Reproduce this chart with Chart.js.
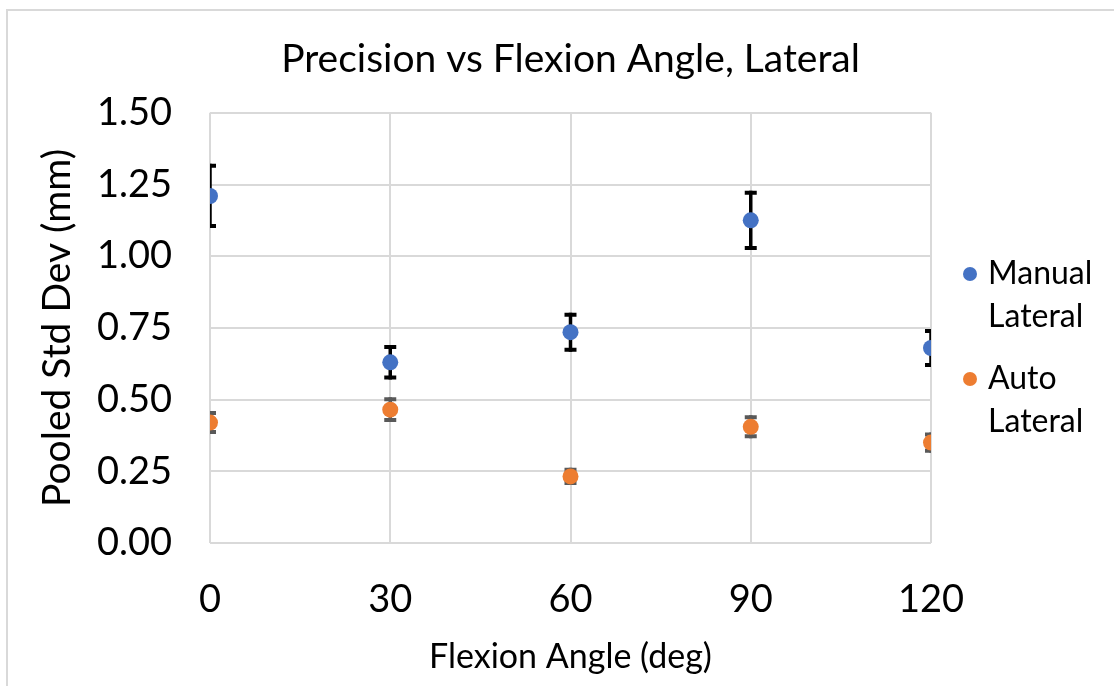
<!DOCTYPE html>
<html>
<head>
<meta charset="utf-8">
<script src="https://cdn.jsdelivr.net/npm/chart.js@4"></script>
<style>
  html, body { margin: 0; padding: 0; background: #fff; overflow: hidden; }
  #frame {
    position: absolute; left: 6px; top: 9px;
    width: 1108px; height: 677px;
    border-left: 2px solid #d9d9d9; border-top: 2px solid #d9d9d9;
    box-sizing: border-box;
  }
  #wrap { position: absolute; left: 0; top: 0; width: 1106px; height: 675px; }
</style>
</head>
<body>
<div id="frame"><div id="wrap"><canvas id="chart"></canvas></div></div>
<script>
const angles = [0, 30, 60, 90, 120];
const manualLateral = [1.21, 0.63, 0.735, 1.125, 0.68];
const manualErr = [0.112, 0.06, 0.068, 0.103, 0.066];
const autoLateral = [0.42, 0.465, 0.232, 0.405, 0.35];
const autoErr = [0.04, 0.043, 0.03, 0.04, 0.035];
const seriesNames = [["Manual", "Lateral"], ["Auto", "Lateral"]];
const yTicks = [0, 0.25, 0.5, 0.75, 1.0, 1.25, 1.5];

const FONT = "Lato";

const errorBars = {
  id: "errorBars",
  beforeDatasetsDraw(chart) {
    const { ctx, chartArea, scales: { x, y } } = chart;
    ctx.save();
    ctx.beginPath();
    ctx.rect(chartArea.left, chartArea.top, chartArea.width, chartArea.height);
    ctx.clip();
    chart.data.datasets.forEach(ds => {
      ctx.strokeStyle = ds.errColor;
      ds.data.forEach((p, i) => {
        const px = x.getPixelForValue(p.x);
        const top = y.getPixelForValue(p.y + ds.err[i]);
        const bot = y.getPixelForValue(p.y - ds.err[i]);
        ctx.lineWidth = 3.5;
        ctx.beginPath();
        ctx.moveTo(px, top);
        ctx.lineTo(px, bot);
        ctx.stroke();
        ctx.lineWidth = 4;
        ctx.beginPath();
        ctx.moveTo(px - 6, top + 2);
        ctx.lineTo(px + 6, top + 2);
        ctx.moveTo(px - 6, bot - 2);
        ctx.lineTo(px + 6, bot - 2);
        ctx.stroke();
      });
    });
    ctx.restore();
  }
};

const sideLegend = {
  id: "sideLegend",
  afterDraw(chart) {
    const { ctx } = chart;
    const rows = [263, 368];
    ctx.save();
    ctx.font = `32px ${FONT}`;
    ctx.textBaseline = "middle";
    chart.data.datasets.forEach((ds, k) => {
      const cy = rows[k];
      ctx.beginPath();
      ctx.fillStyle = ds.backgroundColor;
      ctx.arc(962, cy, 7, 0, Math.PI * 2);
      ctx.fill();
      ctx.fillStyle = "#000";
      seriesNames[k].forEach((t, j) => ctx.fillText(t, 980, cy + j * 43));
    });
    ctx.restore();
  }
};

const toPts = vals => angles.map((a, i) => ({ x: a, y: vals[i] }));

new Chart(document.getElementById("chart"), {
  type: "scatter",
  data: {
    datasets: [
      {
        label: "Manual Lateral",
        data: toPts(manualLateral),
        err: manualErr,
        errColor: "#000000",
        backgroundColor: "#4472C4",
        borderWidth: 0,
        pointRadius: 8
      },
      {
        label: "Auto Lateral",
        data: toPts(autoLateral),
        err: autoErr,
        errColor: "#595959",
        backgroundColor: "#ED7D31",
        borderWidth: 0,
        pointRadius: 8
      }
    ]
  },
  options: {
    responsive: true,
    maintainAspectRatio: false,
    animation: false,
    layout: { padding: { left: 0, right: 183, top: 0, bottom: 0 } },
    plugins: {
      legend: { display: false },
      tooltip: { enabled: false },
      title: {
        display: true,
        fullSize: false,
        text: "Precision vs Flexion Angle, Lateral",
        color: "#000",
        font: { family: FONT, size: 39, weight: "normal" },
        padding: { top: 25, bottom: 30 }
      }
    },
    scales: {
      x: {
        type: "linear",
        min: 0,
        max: 120,
        afterBuildTicks: s => { s.ticks = angles.map(v => ({ value: v })); },
        afterFit: s => { s.height = 675 - 532; },
        grid: { color: "#d9d9d9", lineWidth: 2, drawTicks: false },
        border: { display: false },
        ticks: {
          color: "#000",
          padding: 34,
          maxRotation: 0,
          font: { family: FONT, size: 38 }
        },
        title: {
          display: true,
          text: "Flexion Angle (deg)",
          color: "#000",
          font: { family: FONT, size: 34 },
          padding: { top: 0, bottom: 9 }
        }
      },
      y: {
        min: 0,
        max: 1.5,
        afterBuildTicks: s => { s.ticks = yTicks.map(v => ({ value: v })); },
        afterFit: s => { s.width = 202; },
        grid: { color: "#d9d9d9", lineWidth: 2, drawTicks: false },
        border: { display: false },
        ticks: {
          color: "#000",
          padding: 38,
          font: { family: FONT, size: 38 },
          callback: v => v.toFixed(2)
        },
        title: {
          display: true,
          text: "Pooled Std Dev (mm)",
          color: "#000",
          font: { family: FONT, size: 39 },
          padding: { top: 26, bottom: 0 }
        }
      }
    }
  },
  plugins: [errorBars, sideLegend]
});
</script>
</body>
</html>
